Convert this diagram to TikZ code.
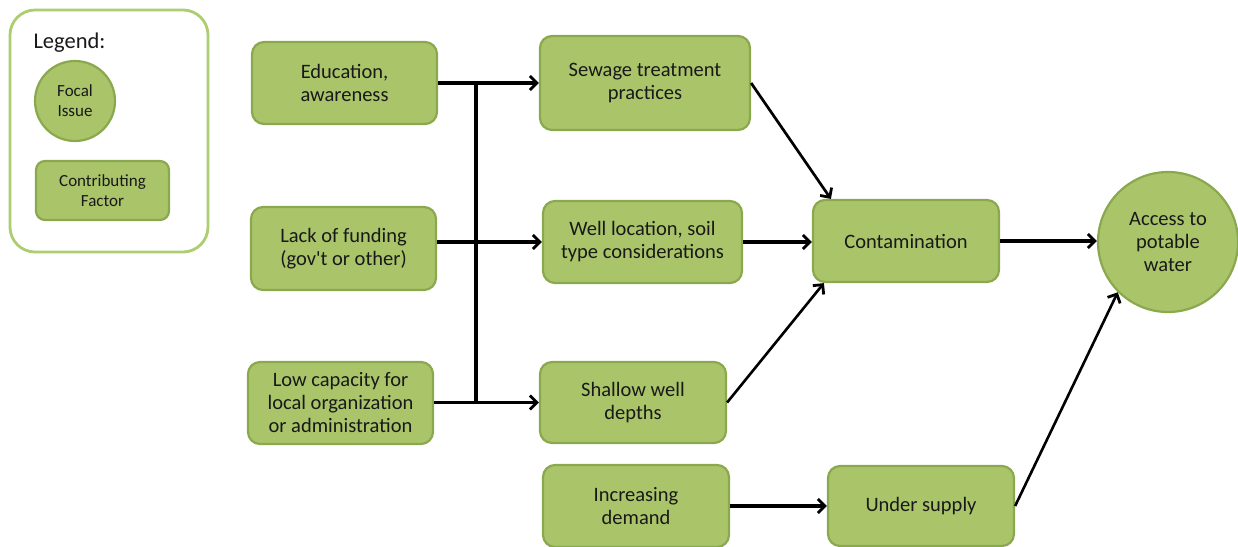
\documentclass[tikz,border=0pt]{standalone}
\usepackage{fontspec}
\setmainfont{Carlito}
\usetikzlibrary{arrows.meta}
\definecolor{boxfill}{RGB}{170,196,106}
\definecolor{boxline}{RGB}{138,168,78}
\definecolor{legline}{RGB}{172,205,112}
\definecolor{ink}{RGB}{25,25,25}
\tikzset{
  factor/.style={draw=boxline, line width=2.2pt, fill=boxfill, rounded corners=12pt,
    align=center, inner sep=0pt, text=ink, font=\fontsize{20.5}{23}\selectfont},
  focal/.style={circle, draw=boxline, line width=2.2pt, fill=boxfill, align=center,
    inner sep=0pt, text=ink, font=\fontsize{20.5}{23}\selectfont},
  link/.style={line width=3.2pt, draw=black,
    -{Straight Barb[length=7pt,width=14pt,line width=2.8pt]}},
  bus/.style={line width=3.2pt, draw=black},
}
\begin{document}
\begin{tikzpicture}[x=1pt,y=-1pt]
\useasboundingbox (0,0) rectangle (1238,546);

% legend
\node[draw=legline, line width=2.8pt, rounded corners=25pt, minimum width=198pt,
  minimum height=242pt, inner sep=0pt] (legend) at (109,131) {};
\node[anchor=west, text=ink, font=\fontsize{22.5}{26}\selectfont] (legtitle) at (30,43) {Legend:};
\node[focal, minimum size=80pt, font=\fontsize{17}{20}\selectfont] (legfocal) at (75,101) {Focal\\Issue};
\node[factor, minimum width=133pt, minimum height=59pt, rounded corners=9pt,
  font=\fontsize{17}{20}\selectfont] (legfactor) at (102.5,190.5) {Contributing\\Factor};

% contributing factors
\node[factor, minimum width=185pt, minimum height=82pt] (edu) at (344.5,83) {Education,\\awareness};
\node[factor, minimum width=185pt, minimum height=83pt] (fund) at (343.5,248.5) {Lack of funding\\(gov\textquotesingle t or other)};
\node[factor, minimum width=185pt, minimum height=82pt] (cap) at (340.5,403) {Low capacity for\\local organization\\or administration};
\node[factor, minimum width=210pt, minimum height=94pt] (sew) at (645,83) {Sewage treatment\\practices};
\node[factor, minimum width=199pt, minimum height=82pt] (well) at (642.5,242) {Well location, soil\\type considerations};
\node[factor, minimum width=186pt, minimum height=81pt] (shal) at (633,402.5) {Shallow well\\depths};
\node[factor, minimum width=186pt, minimum height=82pt] (inc) at (636,506) {Increasing\\demand};
\node[factor, minimum width=186pt, minimum height=80pt] (und) at (921,506) {Under supply};
\node[factor, minimum width=186pt, minimum height=82pt] (cont) at (906,241) {Contamination};

% focal issue
\node[focal, minimum size=140pt] (acc) at (1168,242) {Access to\\potable\\water};

% connectors
\coordinate (bustop) at (476,83);
\coordinate (busbot) at (476,402);
\draw[bus] (bustop) -- (busbot);
\draw[link] (edu.east) -- (sew.west);
\draw[link] (fund.east |- well.west) -- (well.west);
\draw[link] (cap.east |- shal.west) -- (shal.west);
\draw[link, line width=2.7pt] (sew.east) -- ([xshift=19pt]cont.north west);
\draw[link] (well.east) -- (well.east -| cont.west);
\draw[link, line width=2.6pt] (shal.east) -- ([xshift=12pt]cont.south west);
\draw[link] (cont.east) -- (cont.east -| acc.west);
\draw[link] (inc.east) -- (inc.east -| und.west);
\draw[link, line width=2.6pt] (und.east) -- (acc.225);
\end{tikzpicture}
\end{document}
